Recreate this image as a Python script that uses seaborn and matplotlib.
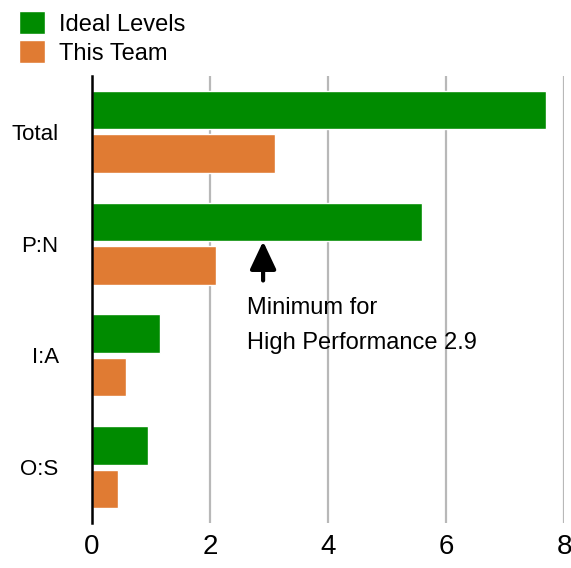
import matplotlib
matplotlib.use("Agg")
import matplotlib.pyplot as plt
import seaborn as sns
import pandas as pd

metrics = ["Total", "P:N", "I:A", "O:S"]
ideal = [7.7, 5.6, 1.15, 0.95]
team = [3.1, 2.1, 0.58, 0.44]
series = ["Ideal Levels", "This Team"]
colors = ["#008B00", "#E07B33"]
minimum = 2.9

df = pd.DataFrame({
    "metric": metrics * 2,
    "value": ideal + team,
    "series": [series[0]] * len(metrics) + [series[1]] * len(metrics),
})

sns.set_style("white")
plt.rcParams["font.family"] = ["Liberation Sans", "DejaVu Sans"]
plt.rcParams["text.color"] = "black"
plt.rcParams["xtick.color"] = "black"
plt.rcParams["ytick.color"] = "black"

fig = plt.figure(figsize=(5.71, 5.68), dpi=100)
ax = fig.add_axes([92 / 571, 45 / 568, 472 / 571, 447 / 568])

sns.barplot(data=df, y="metric", x="value", hue="series", orient="h",
            palette=colors, width=0.78, gap=0.12, saturation=1, ax=ax)

ax.set_xlim(0, 8)
ax.set_ylim(3.5, -0.5)
ax.set_xticks([0, 2, 4, 6, 8])
ax.set_xlabel("")
ax.set_ylabel("")
ax.set_axisbelow(True)
ax.xaxis.grid(True, color="#b8b8b8", linewidth=1.6)
for s in ["top", "right", "bottom"]:
    ax.spines[s].set_visible(False)
ax.spines["left"].set_color("black")
ax.spines["left"].set_linewidth(1.8)
ax.tick_params(axis="x", length=0, labelsize=20, pad=8, labelcolor="black")
ax.tick_params(axis="y", length=0, labelsize=16, pad=24, labelcolor="black")

# arrow + note for the minimum
ax.annotate("", xy=(minimum, 0.98), xytext=(minimum, 1.33),
            arrowprops=dict(arrowstyle="-|>,head_width=0.8,head_length=1.7",
                            color="black", lw=3, shrinkA=0, shrinkB=0))
ax.text(2.62, 1.48, "Minimum for\nHigh Performance 2.9", fontsize=17,
        va="top", ha="left", linespacing=1.75, color="black")

sns.move_legend(ax, "upper left", bbox_to_anchor=(-0.154, 1.145), frameon=False,
                title=None, fontsize=17, handlelength=1.1, handleheight=1.1,
                labelspacing=0.2, handletextpad=0.6, borderpad=0, borderaxespad=0)
for t in ax.get_legend().get_texts():
    t.set_color("black")

fig.savefig("out.png", dpi=100)
